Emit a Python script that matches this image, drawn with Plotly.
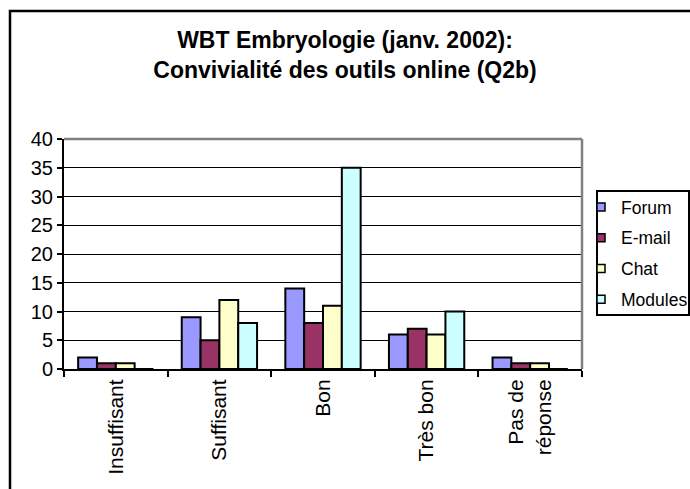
import plotly.graph_objects as go

categories = ["Insuffisant", "Suffisant", "Bon", "Très bon", "Pas de<br>réponse"]
series_names = ["Forum", "E-mail", "Chat", "Modules"]
forum = [2, 9, 14, 6, 2]
email = [1, 5, 8, 7, 1]
chat = [1, 12, 11, 6, 1]
modules = [0, 8, 35, 10, 0]
y_ticks = [0, 5, 10, 15, 20, 25, 30, 35, 40]

colors = ["#9999FF", "#993366", "#FFFFCC", "#CCFFFF"]
values = [forum, email, chat, modules]
FONT = "Liberation Sans, Arial, sans-serif"

W, H = 690, 489
L, R, T, B = 64, 108, 139, 120
PW, PH = W - L - R, H - T - B

def px(x):
    return (x - L) / PW

def py(y):
    return (H - B - y) / PH

fig = go.Figure()
for name, vals, col in zip(series_names, values, colors):
    fig.add_trace(go.Bar(
        x=categories, y=vals, name=name, showlegend=False,
        marker=dict(color=col, line=dict(color="black", width=2)),
    ))
for i, (name, col) in enumerate(zip(series_names, colors)):
    fig.add_trace(go.Scatter(
        x=[None], y=[None], mode="markers", name=name, legendgroup=name,
        marker=dict(symbol="square", size=8, color=col,
                    line=dict(color="black", width=1.5)),
    ))

fig.update_layout(
    width=W, height=H,
    margin=dict(l=L, r=R, t=T, b=B, autoexpand=False),
    paper_bgcolor="white", plot_bgcolor="white",
    barmode="group", bargap=0.273, bargroupgap=0,
    font=dict(family=FONT, size=19, color="black"),
    title=dict(
        text="<b>WBT Embryologie (janv. 2002):<br>Convivialité des outils online (Q2b)</b>",
        x=0.5, xref="container", xanchor="center",
        y=1 - 48 / H, yref="container", yanchor="middle",
        font=dict(family=FONT, size=23, color="black"),
    ),
    xaxis=dict(
        showline=True, linecolor="black", linewidth=2,
        ticks="outside", tickson="boundaries", ticklen=6, tickwidth=1.5, tickcolor="black",
        tickangle=-90, showgrid=False,
        tickfont=dict(family=FONT, size=21),
    ),
    yaxis=dict(
        range=[0, 40], tickvals=y_ticks,
        showline=True, linecolor="black", linewidth=2,
        ticks="outside", ticklen=5, tickwidth=1.5, tickcolor="black",
        showgrid=True, gridcolor="black", gridwidth=1, zeroline=False,
        tickfont=dict(family=FONT, size=20),
    ),
    legend=dict(
        x=px(581), y=py(189), xanchor="left", yanchor="top",
        bgcolor="rgba(0,0,0,0)", borderwidth=0,
        tracegroupgap=5,
        font=dict(family=FONT, size=17.5),
    ),
    shapes=[
        dict(type="rect", xref="paper", yref="paper",
             x0=px(10), x1=px(720), y0=py(11), y1=py(520),
             line=dict(color="black", width=2.5), layer="below"),
        dict(type="line", xref="paper", yref="paper", x0=0, x1=1, y0=1, y1=1,
             line=dict(color="#808080", width=2.5)),
        dict(type="line", xref="paper", yref="paper", x0=1, x1=1, y0=0, y1=1,
             line=dict(color="#808080", width=2.5)),
        dict(type="rect", xref="paper", yref="paper",
             x0=px(597), x1=px(689), y0=py(315), y1=py(191),
             line=dict(color="black", width=2), fillcolor="white", layer="above"),
    ],
)

fig.write_html(
    "out.html",
    config={"displayModeBar": False},
    post_script="document.body.style.margin='0';document.body.style.overflow='hidden';",
)
